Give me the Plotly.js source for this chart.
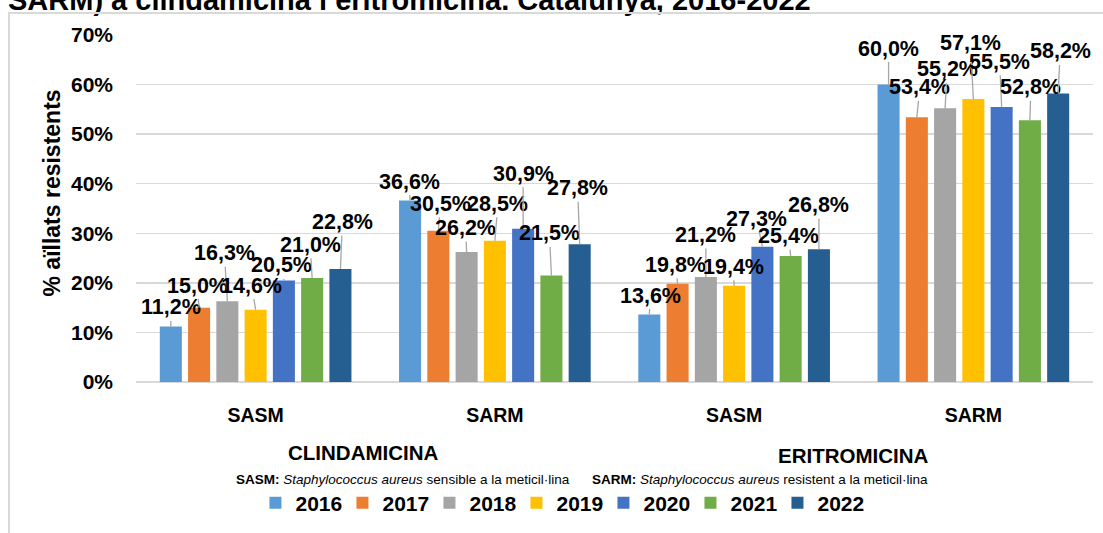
<!DOCTYPE html>
<html>
<head>
<meta charset="utf-8">
<script src="https://cdn.plot.ly/plotly-3.0.1.min.js"></script>
<style>
  html, body { margin: 0; padding: 0; background: #fff; overflow: hidden; }
  #chart { width: 1103px; height: 533px; }
  #frame { position: absolute; left: 8px; top: 12px; width: 1200px; height: 600px;
           border-left: 2px solid #d9d9d9; border-top: 2px solid #d9d9d9; pointer-events: none; }
</style>
</head>
<body>
<div id="chart"></div>
<div id="frame"></div>
<script>
// ---- data ----
const categories = ['SASM', 'SARM', 'SASM', 'SARM'];
const years = ['2016', '2017', '2018', '2019', '2020', '2021', '2022'];
const v2016 = [11.2, 36.6, 13.6, 60.0];
const v2017 = [15.0, 30.5, 19.8, 53.4];
const v2018 = [16.3, 26.2, 21.2, 55.2];
const v2019 = [14.6, 28.5, 19.4, 57.1];
const v2020 = [20.5, 30.9, 27.3, 55.5];
const v2021 = [21.0, 21.5, 25.4, 52.8];
const v2022 = [22.8, 27.8, 26.8, 58.2];
const antibiotics = ['CLINDAMICINA', 'ERITROMICINA'];
const yTickVals = [0, 10, 20, 30, 40, 50, 60, 70];
const titleText = 'SARM) a clindamicina i eritromicina. Catalunya, 2016-2022';
const yTitle = '% aïllats resistents';
const foot1 = '<b>SASM:</b> <i>Staphylococcus aureus</i> sensible a la meticil·lina';
const foot2 = '<b>SARM:</b> <i>Staphylococcus aureus</i> resistent a la meticil·lina';

// ---- styling ----
const series = [v2016, v2017, v2018, v2019, v2020, v2021, v2022];
const colors = ['#5b9bd5', '#ed7d31', '#a5a5a5', '#ffc000', '#4472c4', '#70ad47', '#255e91'];
// label offsets in px (ax, ay) per year per group
const labAx = [[0,-1,1,0],[-2,2,-2,3],[-3,-1,0,2],[-4,3,-1,-3],[-2,0,-6,-2],[-2,-2,-2,1],[2,-2,0,2]];
const labAy = [[-19,-19,-19,-36],[-22,-27,-19,-30],[-48,-24,-42,-39],[-24,-37,-19,-56],[-15,-55,-28,-45],[-33,-42,-20,-33],[-47,-56,-44,-42]];

const FONT = 'Liberation Sans, Arial, sans-serif';
const bargap = 0.173;
const xIdx = categories.map((c, i) => i);

const traces = series.map((vals, k) => ({
  type: 'bar',
  name: '<b>' + years[k] + '</b>',
  x: xIdx,
  y: vals,
  marker: { color: colors[k], line: { width: 0 } },
  hoverinfo: 'skip'
}));

const n = series.length;
const slot = (1 - bargap) / n;
const annotations = [];
series.forEach((vals, k) => {
  vals.forEach((v, g) => {
    annotations.push({
      x: g + (k - (n - 1) / 2) * slot,
      y: v,
      xref: 'x', yref: 'y',
      text: '<b>' + v.toFixed(1).replace('.', ',') + '%</b>',
      showarrow: true,
      arrowhead: 0,
      arrowwidth: 1.3,
      arrowcolor: '#a6a6a6',
      ax: labAx[k][g],
      ay: labAy[k][g],
      standoff: 0,
      font: { family: FONT, size: 21.5, color: '#000' }
    });
  });
});

// antibiotic group labels
annotations.push({
  x: 0.45, y: 0, yshift: -(455 - 385), xref: 'x', yref: 'paper', yanchor: 'middle', showarrow: false,
  text: '<b>' + antibiotics[0] + '</b>', font: { family: FONT, size: 20.5, color: '#000' }
});
annotations.push({
  x: 2.5, y: 0, yshift: -(458 - 385), xref: 'x', yref: 'paper', yanchor: 'middle', showarrow: false,
  text: '<b>' + antibiotics[1] + '</b>', font: { family: FONT, size: 20.5, color: '#000' }
});
// footnotes
annotations.push({
  x: 0, xshift: 234 - 136, xanchor: 'left', y: 0, yshift: -(482 - 385), yanchor: 'middle',
  xref: 'paper', yref: 'paper', showarrow: false, text: foot1,
  font: { family: FONT, size: 13.5, color: '#000' }
});
annotations.push({
  x: 0, xshift: 590 - 136, xanchor: 'left', y: 0, yshift: -(482 - 385), yanchor: 'middle',
  xref: 'paper', yref: 'paper', showarrow: false, text: foot2,
  font: { family: FONT, size: 13.5, color: '#000' }
});
// y axis title
annotations.push({
  x: 0, xshift: -100, xref: 'paper', y: 0.5, yshift: 15, yref: 'paper',
  textangle: -90, showarrow: false, text: '<b>' + yTitle + '</b>',
  font: { family: FONT, size: 23, color: '#000' }
});

const layout = {
  width: 1103, height: 533,
  margin: { l: 136, r: 10, t: 35, b: 148 },
  paper_bgcolor: '#fff', plot_bgcolor: '#fff',
  barmode: 'group', bargap: bargap, bargroupgap: 0.22,
  showlegend: true,
  title: {
    text: '<b>' + titleText + '</b>',
    x: 8 / 1103, xref: 'container', xanchor: 'left',
    y: 1, yref: 'container', yanchor: 'middle',
    font: { family: FONT, size: 29, color: '#000' }
  },
  xaxis: {
    tickvals: xIdx, ticktext: categories.map(c => '<b>' + c + '</b>'),
    range: [-0.5, categories.length - 0.5],
    showgrid: false, zeroline: false, showline: false, ticks: '',
    tickfont: { family: FONT, size: 19.5, color: '#000' },
    ticklabelstandoff: 19
  },
  yaxis: {
    range: [0, 70], tickmode: 'array', tickvals: yTickVals,
    ticktext: yTickVals.map(v => '<b>' + v + '%</b>'),
    showgrid: true, gridcolor: '#d9d9d9', gridwidth: 1.5,
    zeroline: true, zerolinecolor: '#d9d9d9', zerolinewidth: 1.5,
    showline: false, ticks: '',
    tickfont: { family: FONT, size: 21, color: '#000' },
    ticklabelstandoff: 22
  },
  legend: {
    orientation: 'h', x: 0.443, xanchor: 'center', y: -0.349, yanchor: 'middle',
    font: { family: FONT, size: 21, color: '#000' },
    itemwidth: 30, traceorder: 'normal', entrywidth: 42
  },
  annotations: annotations
};

Plotly.newPlot('chart', traces, layout, { displayModeBar: false, staticPlot: true });
</script>
</body>
</html>
